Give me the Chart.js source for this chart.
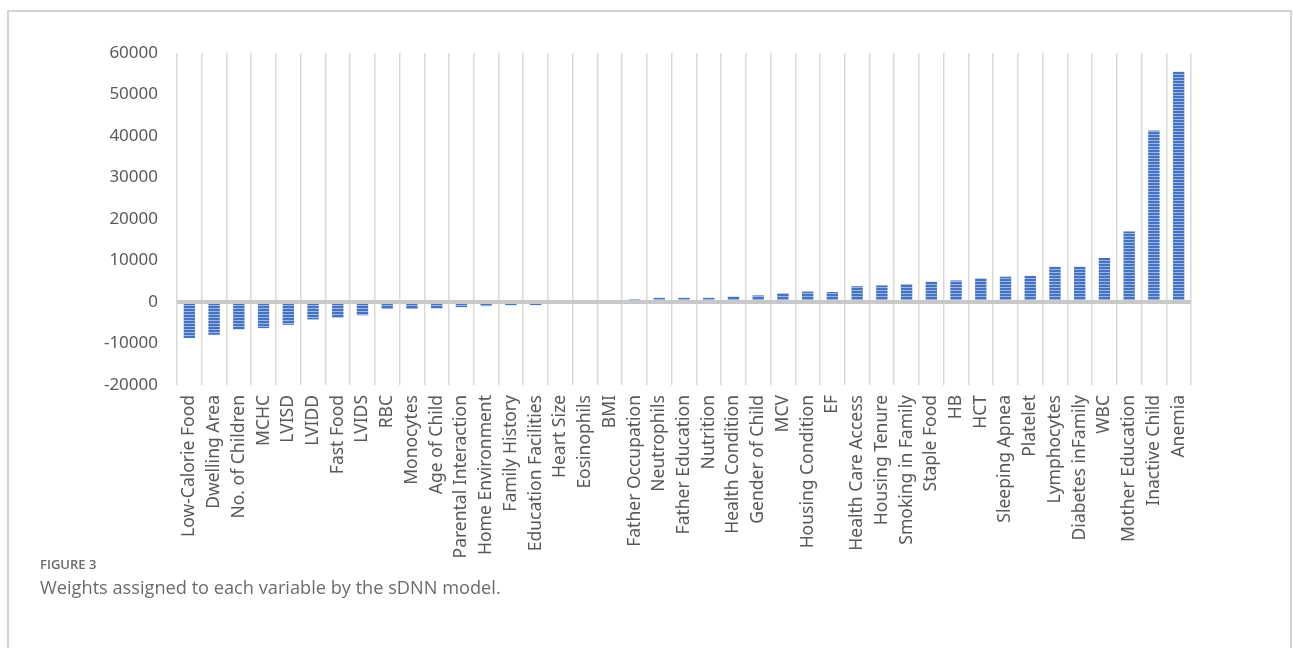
<!DOCTYPE html>
<html>
<head>
<meta charset="utf-8">
<script src="https://cdn.jsdelivr.net/npm/chart.js@4.4.0/dist/chart.umd.min.js"></script>
<style>
  body { margin: 0; background: #fff; width: 1293px; height: 648px; overflow: hidden; position: relative; }
  #frame { position: absolute; left: 7px; top: 10px; width: 1285px; height: 700px; border: 2px solid #d3d3d3; box-sizing: border-box; }
  #wrap { position: absolute; left: 0; top: 0; width: 1293px; height: 560px; }
  .fig { position: absolute; left: 40px; top: 555px; font-family: "Open Sans", sans-serif; font-size: 13px; font-weight: 600; color: #6b6b6b; }
  .cap { position: absolute; left: 40px; top: 575px; font-family: "Open Sans", sans-serif; font-size: 18.2px; color: #6b6b6b; }
</style>
</head>
<body>
<div id="frame"></div>
<div id="wrap"><canvas id="barChart"></canvas></div>
<div class="fig">FIGURE 3</div>
<div class="cap">Weights assigned to each variable by the sDNN model.</div>
<script>
const variables = [
    'Low-Calorie Food', 'Dwelling Area', 'No. of Children', 'MCHC', 'LVISD', 'LVIDD',
    'Fast Food', 'LVIDS', 'RBC', 'Monocytes', 'Age of Child', 'Parental Interaction',
    'Home Environment', 'Family History', 'Education Facilities', 'Heart Size', 'Eosinophils',
    'BMI', 'Father Occupation', 'Neutrophils', 'Father Education', 'Nutrition',
    'Health Condition', 'Gender of Child', 'MCV', 'Housing Condition', 'EF',
    'Health Care Access', 'Housing Tenure', 'Smoking in Family', 'Staple Food', 'HB', 'HCT',
    'Sleeping Apnea', 'Platelet', 'Lymphocytes', 'Diabetes inFamily', 'WBC',
    'Mother Education', 'Inactive Child', 'Anemia'
];

const weights = [
    -8700, -7900, -6600, -6300, -5500, -4200,
    -3800, -3200, -1700, -1700, -1550, -1250,
    -1000, -800, -750, 0, 0,
    0, 700, 1000, 1000, 1000,
    1300, 1600, 2100, 2500, 2400,
    3800, 4000, 4300, 4900, 5200, 5700,
    6100, 6300, 8500, 8500, 10600,
    17000, 41300, 55500
];

const yTicks = { min: -20000, max: 60000, step: 10000 };

// striped fill like the Excel bars
function stripes() {
    const c = document.createElement('canvas');
    c.width = 4; c.height = 3;
    const g = c.getContext('2d');
    g.fillStyle = '#4472c4';
    g.fillRect(0, 0, 4, 2);
    g.fillStyle = '#9db5e0';
    g.fillRect(0, 2, 4, 1);
    return g.createPattern(c, 'repeat');
}

Chart.defaults.font.family = "'Noto Sans', sans-serif";

const ctx = document.getElementById('barChart').getContext('2d');
new Chart(ctx, {
    type: 'bar',
    data: {
        labels: variables,
        datasets: [{
            data: weights,
            backgroundColor: stripes(),
            categoryPercentage: 1,
            barPercentage: 0.46
        }]
    },
    options: {
        responsive: true,
        maintainAspectRatio: false,
        animation: false,
        layout: { padding: { left: 0, right: 102, top: 53, bottom: 0 } },
        plugins: {
            legend: { display: false },
            tooltip: { enabled: false }
        },
        scales: {
            x: {
                afterFit: s => { s.height = 175; },
                grid: { color: '#d9d9d9', lineWidth: 1.5, offset: true, drawTicks: false },
                border: { display: false },
                ticks: {
                    autoSkip: false,
                    minRotation: 90,
                    maxRotation: 90,
                    padding: 10,
                    color: '#595959',
                    font: { size: 17.5 }
                }
            },
            y: {
                z: 1,
                min: yTicks.min,
                max: yTicks.max,
                afterFit: s => { s.width = 177; },
                grid: {
                    drawTicks: false,
                    color: '#c8c8c8',
                    lineWidth: c => (c.tick && c.tick.value === 0 ? 4 : 0)
                },
                border: { display: false },
                ticks: {
                    stepSize: yTicks.step,
                    padding: 19,
                    color: '#595959',
                    font: { size: 17 },
                    callback: v => String(v)
                }
            }
        }
    }
});
</script>
</body>
</html>
